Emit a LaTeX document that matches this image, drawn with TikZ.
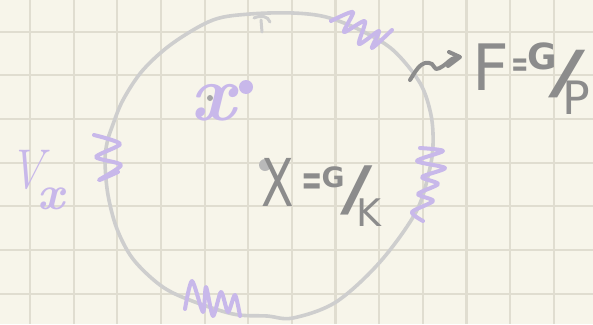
\documentclass[tikz,border=0pt]{standalone}
\usepackage{fontspec}
\newfontfamily\hand{DejaVu Sans}
\definecolor{paper}{RGB}{247,245,234}
\definecolor{gridc}{RGB}{224,221,208}
\definecolor{ring}{RGB}{206,206,206}
\definecolor{lav}{RGB}{200,184,234}
\definecolor{ink}{RGB}{140,140,140}
\tikzset{
  stroke/.style={line width=#1, line cap=round, line join=round},
  coil/.style={draw=lav, stroke=4pt},
  inktext/.style={text=ink, inner sep=0pt, anchor=base},
  lavtext/.style={text=lav, inner sep=0pt, anchor=base},
}
\begin{document}
\begin{tikzpicture}[x=1pt,y=-1pt]
\fill[paper] (0,0) rectangle (593,324);
\useasboundingbox (0,0) rectangle (593,324);
% grid
\foreach \i in {0,...,12} \draw[gridc, line width=2.2pt] ({30+43.65*\i},0) -- ++(0,324);
\foreach \j in {0,...,6} \draw[gridc, line width=2.2pt] (0,{31.7+43.65*\j}) -- ++(593,0);
% the circle
\draw[ring, stroke=3.6pt] plot[smooth cycle, tension=0.55] coordinates {
 (250,14) (293,13) (326,17) (360,30) (393,50) (420,83) (431,115) (433,145) (429,172)
 (416,212) (380,262) (336,302) (293,318) (267,316) (233,314) (187,299) (160,285)
 (133,259) (117,229) (108,195) (105,162) (107,143) (112,127) (123,100) (143,70)
 (173,43) (213,20)};
% small tick at the top
\draw[ring, stroke=3pt] (254,18) .. controls (261,15) and (268,16) .. (270,22);
\draw[ring, stroke=3pt] (261,20) -- (262,32);
% coils
\draw[coil] plot[smooth, tension=0.45] coordinates {(331,21) (353,12) (344,32) (365,21) (359,44) (379,31) (372,48) (392,30)};
\draw[coil] plot[smooth, tension=0.45] coordinates {(94,135) (120,144) (96,157) (121,165) (99,180) (118,172)};
\draw[coil] plot[smooth, tension=0.45] coordinates {(420,148) (443,151) (417,161) (445,168) (422,177) (438,184) (418,194) (433,201) (412,212) (423,221)};
\draw[coil] plot[smooth, tension=0.45] coordinates {(185,309) (192,281) (203,312) (206,287) (213,316) (221,292) (228,312) (235,295) (240,316)};
% points
\fill[ring!90!black] (265,165) circle (6);
\fill[ring!80!black] (210,98) circle (3);
\fill[lav] (246,87) circle (7);
% purple labels
\node[lavtext] (px) at (213,120) {\fontsize{80}{80}\selectfont\itshape\bfseries x};
\node[lavtext] (vv) at (27,188) {\fontsize{56}{56}\selectfont\scalebox{0.85}[1]{\itshape V}};
\node[lavtext] (vx) at (51,209) {\fontsize{48}{48}\selectfont\itshape\bfseries x};
% X = G/K
\node[inktext] (X) at (278,206) {\hand\fontsize{66}{66}\selectfont\scalebox{0.72}[1]{X}};
\node[inktext] (eq1) at (312,195) {\hand\bfseries\fontsize{30}{30}\selectfont\scalebox{0.85}[1.5]{=}};
\node[inktext] (G1) at (333,187) {\hand\bfseries\fontsize{28}{28}\selectfont G};
\node[inktext] (sl1) at (357,209) {\hand\fontsize{60}{60}\selectfont\scalebox{1.6}[1]{/}};
\node[inktext] (K) at (369,226) {\hand\fontsize{38}{38}\selectfont K};
% squiggly arrow
\draw[ink, stroke=4pt] plot[smooth, tension=0.6] coordinates {(410,80) (418,68) (425,63) (432,64) (436,69) (443,66) (452,59) (458,57)};
\draw[ink, stroke=4pt] (449,52) -- (460,57) -- (448,66);
% F = G/P
\node[inktext] (F) at (491,90) {\hand\fontsize{64}{64}\selectfont F};
\node[inktext] (eq2) at (520,76) {\hand\bfseries\fontsize{26}{26}\selectfont\scalebox{0.8}[1.4]{=}};
\node[inktext] (G2) at (542,69) {\hand\bfseries\fontsize{36}{36}\selectfont G};
\node[inktext] (sl2) at (567,92) {\hand\fontsize{58}{58}\selectfont\scalebox{1.9}[1]{/}};
\node[inktext] (P) at (576,114) {\hand\fontsize{46}{46}\selectfont P};
\end{tikzpicture}
\end{document}
